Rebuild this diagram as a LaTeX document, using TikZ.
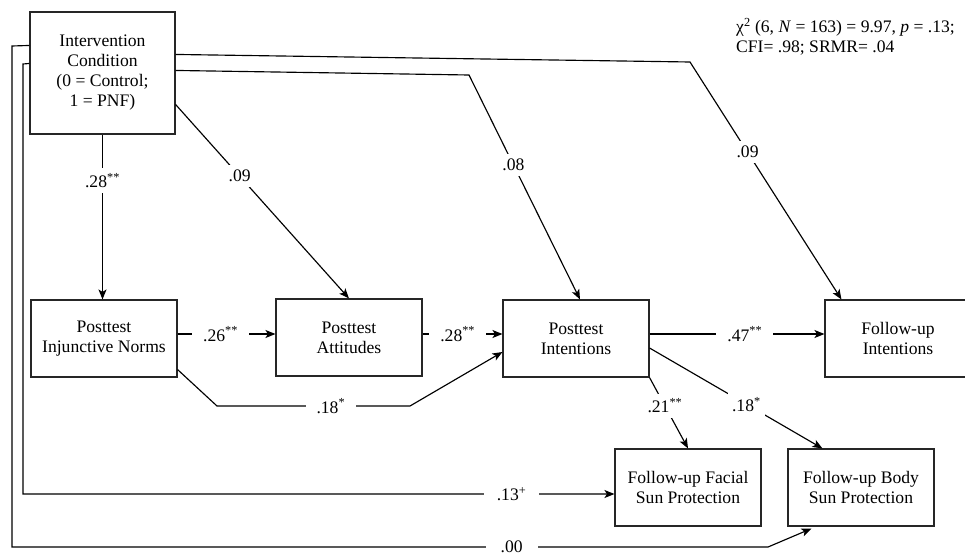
\documentclass[tikz,border=0pt]{standalone}
\usepackage{fontspec}
\setmainfont{Liberation Serif}
\usetikzlibrary{arrows.meta,calc}
\begin{document}
\begin{tikzpicture}[x=1pt,y=-1pt,
  every node/.style={font=\fontsize{17.6}{20}\selectfont},
  box/.style={draw=black!85, line width=1.1pt, minimum width=146pt, minimum height=77pt, inner sep=0pt, align=center},
  conn/.style={line width=1.15pt},
  arr/.style={conn, -{Stealth[length=10pt,width=8pt,inset=2.5pt]}},
  lbl/.style={fill=white, inner xsep=11pt, inner ysep=5pt}
]
\useasboundingbox (0,0) rectangle (965,554);

\node[box, minimum width=145pt, minimum height=122pt] (iv) at (102.5,73) {Intervention\\Condition\\(0 = Control;\\1 = PNF)};
\node[box] (inj) at (104,338.5) {Posttest\\Injunctive Norms};
\node[box] (att) at (349,337.5) {Posttest\\Attitudes};
\node[box] (pin) at (576,338.5) {Posttest\\Intentions};
\node[box] (fin) at (898,338.5) {Follow-up\\Intentions};
\node[box] (fac) at (688,487.5) {Follow-up Facial\\Sun Protection};
\node[box] (bod) at (861,487.5) {Follow-up Body\\Sun Protection};

\node[anchor=north west, align=left, inner sep=0pt, font=\fontsize{17.6}{19.5}\selectfont] (fit) at (736,18)
  {χ\textsuperscript{2} (6, \textit{N} = 163) = 9.97, \textit{p} = .13;\\CFI= .98; SRMR= .04};

% Intervention -> Injunctive
\draw[arr] (iv.south) -- node[lbl, pos=0.28]{.28\textsuperscript{**}} (iv.south |- inj.north);
% Intervention -> Attitudes
\draw[arr] ($(iv.north east)+(0,93)$) -- node[lbl, pos=0.37]{.09} (att.north);
% Intervention -> Posttest Intentions
\draw[arr] ($(iv.north east)+(0,59)$) -- (469,75) -- node[lbl, pos=0.4]{.08} ($(pin.north)+(4,0)$);
% Intervention -> Follow-up Intentions
\draw[arr] ($(iv.north east)+(0,43)$) -- (690,62) -- node[lbl, pos=0.38]{.09} ($(fin.north west)+(17,0)$);

% row
\draw[arr] ($(inj.east)+(0,-4.5)$) -- node[lbl, pos=0.44]{.26\textsuperscript{**}} ($(att.west)+(0,-3.5)$);
\draw[arr] ($(att.east)+(0,-3.5)$) -- node[lbl, pos=0.44]{.28\textsuperscript{**}} ($(pin.west)+(0,-4.5)$);
\draw[arr] ($(pin.east)+(0,-4.5)$) -- node[lbl, pos=0.545]{.47\textsuperscript{**}} ($(fin.west)+(0,-4.5)$);

% Injunctive -> Posttest Intentions
\draw[arr] ($(inj.south east)+(0,-8)$) -- (217,406) -- node[lbl, pos=0.59]{.18\textsuperscript{*}} (410,406) -- ($(pin.west)+(0,13.5)$);

% Posttest Intentions -> Facial / Body
\draw[arr] (pin.south east) -- node[lbl, pos=0.4, inner xsep=2pt]{.21\textsuperscript{**}} (fac.north);
\draw[arr] ($(pin.east)+(0,9.5)$) -- node[lbl, pos=0.56, inner xsep=4pt]{.18\textsuperscript{*}} ($(bod.north west)+(35,0)$);

% Intervention -> Facial
\draw[arr] ($(iv.north west)+(0,52)$) -- (23,64) -- (23,494) -- node[lbl, pos=0.826, inner xsep=13pt]{.13\textsuperscript{+}} ($(fac.west)+(0,6.5)$);
% Intervention -> Body
\draw[arr] ($(iv.north west)+(0,34)$) -- (12,46) -- (12,547) -- node[lbl, pos=0.661, inner xsep=15pt]{.00} (768,547) -- ($(bod.south west)+(24,2)$);
\end{tikzpicture}
\end{document}
